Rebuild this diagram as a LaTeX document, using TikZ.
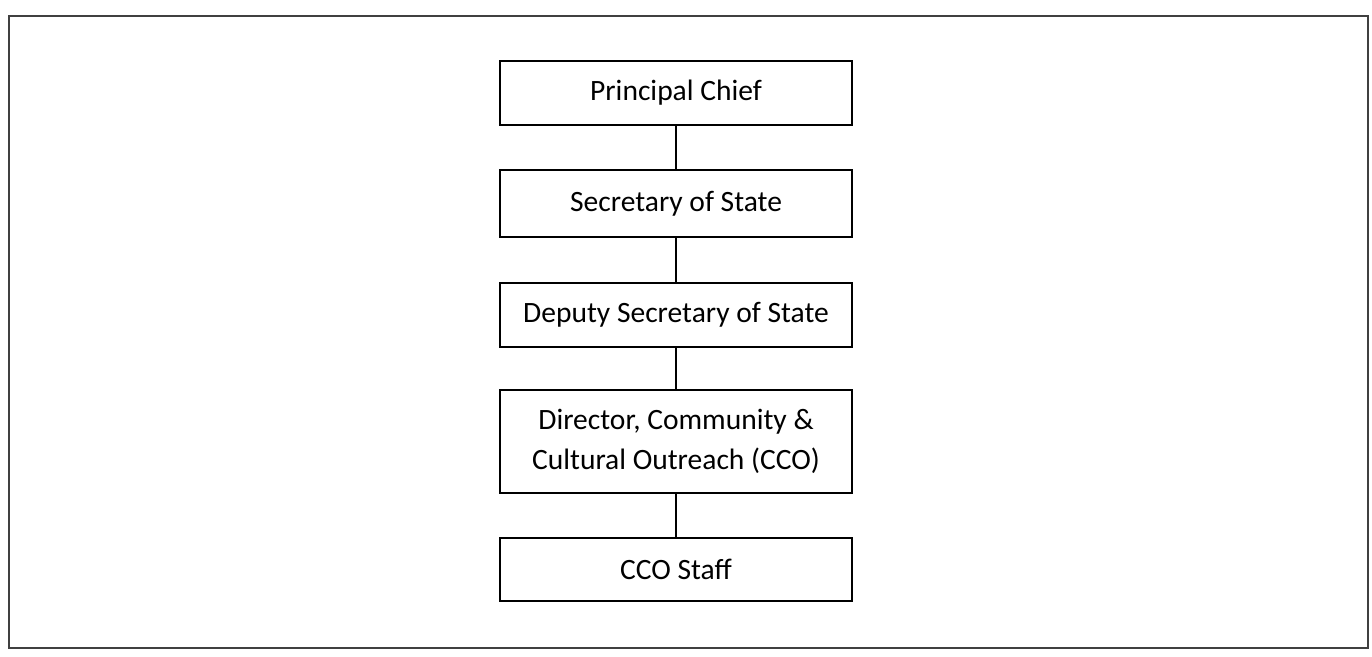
\documentclass[tikz,border=0pt]{standalone}
\usepackage{fontspec}
\setmainfont{Carlito}
\usepackage{tikz}
\usetikzlibrary{positioning}
\pgfdeclarelayer{nodelayer}
\pgfdeclarelayer{edgelayer}
\pgfsetlayers{edgelayer,nodelayer,main}
\tikzset{
    none/.style = {inner sep=0pt},
    post/.style = {draw, line width=1.1pt, fill=white, minimum width=7.04cm, align=center, inner sep=0pt, font=\fontsize{16.8}{23}\selectfont},
    link/.style = {line width=1.1pt}
}

\begin{document}
\begin{tikzpicture}
    \useasboundingbox (0, 0) rectangle (27.44, 13.14);
    % outer frame
    \draw [line width=0.8pt, black!75] (0.18, 0.18) rectangle (27.36, 12.82);

    \begin{pgfonlayer}{nodelayer}
        \node [style=post, minimum height=1.28cm] (0) at (13.52, 11.28) {Principal Chief};
        \node [style=post, minimum height=1.34cm] (1) at (13.52, 9.07) {Secretary of State};
        \node [style=post, minimum height=1.28cm] (2) at (13.52, 6.84) {Deputy Secretary of State};
        \node [style=post, minimum height=2.06cm] (3) at (13.52, 4.31) {Director, Community \&\\Cultural Outreach (CCO)};
        \node [style=post, minimum height=1.26cm] (4) at (13.52, 1.75) {CCO Staff};
    \end{pgfonlayer}
    \begin{pgfonlayer}{edgelayer}
        \draw [style=link] (0.south) to (1.north);
        \draw [style=link] (1.south) to (2.north);
        \draw [style=link] (2.south) to (3.north);
        \draw [style=link] (3.south) to (4.north);
    \end{pgfonlayer}
\end{tikzpicture}
\end{document}
